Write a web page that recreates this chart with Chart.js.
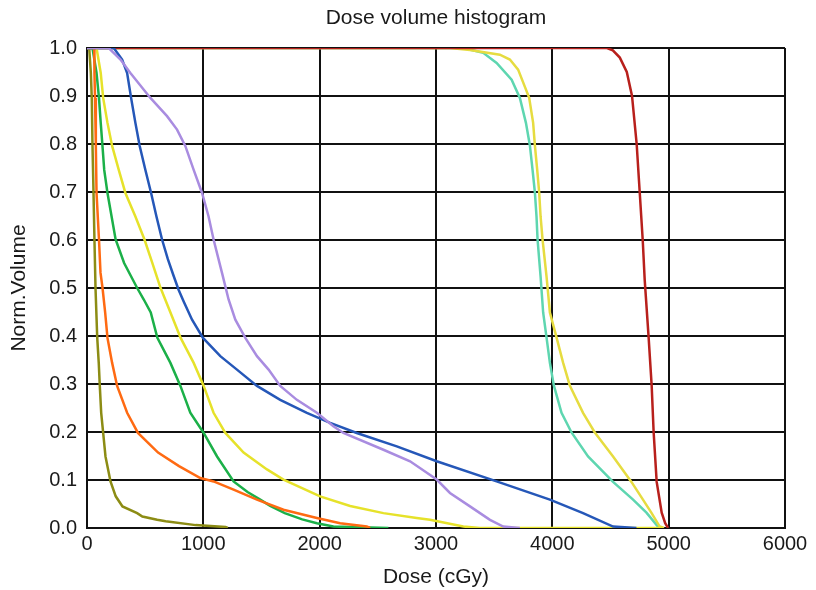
<!DOCTYPE html>
<html>
<head>
<meta charset="utf-8">
<script src="https://cdn.jsdelivr.net/npm/chart.js@4/dist/chart.umd.min.js"></script>
<style>
  html, body { margin: 0; padding: 0; background: #fff; }
  #wrap { width: 816px; height: 590px; }
</style>
</head>
<body>
<div id="wrap"><canvas id="dvh"></canvas></div>
<script>
// dose (cGy) / normalised volume pairs
const xTicks = [0, 1000, 2000, 3000, 4000, 5000, 6000];
const yTicks = [0.0, 0.1, 0.2, 0.3, 0.4, 0.5, 0.6, 0.7, 0.8, 0.9, 1.0];

const redDose = [0, 4470, 4520, 4580, 4640, 4685, 4725, 4751, 4777, 4794, 4828, 4854, 4871, 4897, 4940, 4970, 4995];
const redVol  = [1, 1, 0.995, 0.98, 0.95, 0.9, 0.8, 0.7, 0.6, 0.517, 0.396, 0.296, 0.199, 0.096, 0.032, 0.01, 0];

const tealDose = [0, 3234, 3406, 3521, 3650, 3721, 3773, 3807, 3830, 3850, 3864, 3873, 3899, 3921, 3950, 3979, 4013, 4079, 4165, 4307, 4522, 4694, 4809, 4908, 4945];
const tealVol  = [1, 1, 0.99, 0.969, 0.934, 0.896, 0.844, 0.797, 0.746, 0.699, 0.649, 0.601, 0.524, 0.449, 0.397, 0.344, 0.297, 0.24, 0.199, 0.149, 0.096, 0.059, 0.032, 0.003, 0];

const yellowRDose = [0, 3120, 3292, 3549, 3635, 3706, 3801, 3835, 3850, 3870, 3887, 3899, 3916, 3950, 3979, 4036, 4093, 4150, 4264, 4365, 4522, 4680, 4779, 4851, 4923, 4960];
const yellowRVol  = [1, 1, 0.996, 0.986, 0.976, 0.955, 0.896, 0.844, 0.797, 0.746, 0.699, 0.649, 0.601, 0.524, 0.449, 0.397, 0.344, 0.297, 0.24, 0.199, 0.149, 0.096, 0.059, 0.032, 0.003, 0];

const blueDose = [0, 230, 302, 345, 379, 416, 453, 502, 551, 597, 645, 695, 745, 788, 831, 903, 997, 1146, 1289, 1461, 1661, 1890, 2090, 2319, 2663, 3006, 3521, 3979, 4264, 4522, 4723];
const blueVol  = [1, 1, 0.976, 0.948, 0.896, 0.844, 0.796, 0.746, 0.698, 0.649, 0.601, 0.56, 0.525, 0.496, 0.472, 0.434, 0.396, 0.358, 0.33, 0.296, 0.267, 0.24, 0.219, 0.198, 0.17, 0.139, 0.097, 0.059, 0.031, 0.003, 0];

const purpleDose = [0, 187, 288, 373, 545, 688, 774, 845, 917, 989, 1045, 1088, 1161, 1217, 1275, 1361, 1461, 1561, 1661, 1804, 1976, 2118, 2204, 2548, 2777, 3006, 3120, 3292, 3464, 3578, 3721];
const purpleVol  = [1, 1, 0.976, 0.948, 0.896, 0.858, 0.83, 0.796, 0.746, 0.698, 0.649, 0.601, 0.531, 0.476, 0.434, 0.396, 0.358, 0.33, 0.296, 0.267, 0.24, 0.212, 0.198, 0.163, 0.139, 0.101, 0.073, 0.045, 0.017, 0.003, 0];

const oliveDose = [0, 19, 33, 41, 47, 56, 64, 73, 88, 101, 110, 122, 139, 159, 202, 247, 305, 431, 476, 603, 676, 934, 1191, 1210];
const oliveVol  = [1, 1, 0.948, 0.896, 0.8, 0.698, 0.601, 0.501, 0.396, 0.344, 0.296, 0.24, 0.198, 0.149, 0.097, 0.066, 0.045, 0.031, 0.024, 0.017, 0.014, 0.006, 0.002, 0];

const orangeDose = [0, 62, 64, 69, 76, 82, 103, 116, 133, 156, 176, 216, 259, 345, 438, 611, 791, 974, 1088, 1260, 1461, 1689, 1976, 2176, 2405, 2434];
const orangeVol  = [1, 1, 0.948, 0.896, 0.796, 0.698, 0.601, 0.532, 0.501, 0.449, 0.396, 0.344, 0.296, 0.24, 0.198, 0.157, 0.129, 0.104, 0.097, 0.08, 0.059, 0.038, 0.021, 0.01, 0.003, 0];

const greenDose = [0, 47, 82, 103, 118, 133, 148, 176, 246, 319, 429, 488, 548, 605, 717, 803, 888, 1003, 1118, 1260, 1380, 1489, 1575, 1700, 1850, 1976, 2118, 2591];
const greenVol  = [1, 1, 0.948, 0.896, 0.844, 0.796, 0.746, 0.698, 0.601, 0.552, 0.501, 0.476, 0.449, 0.396, 0.344, 0.296, 0.24, 0.198, 0.149, 0.097, 0.075, 0.059, 0.046, 0.031, 0.018, 0.01, 0.003, 0];

const yellowLDose = [0, 82, 118, 139, 176, 216, 273, 330, 416, 494, 562, 631, 719, 805, 917, 1003, 1088, 1189, 1346, 1547, 1689, 2004, 2262, 2548, 2834, 2948, 3235, 3378, 4950];
const yellowLVol  = [1, 1, 0.948, 0.896, 0.844, 0.796, 0.746, 0.698, 0.649, 0.601, 0.552, 0.501, 0.448, 0.396, 0.344, 0.296, 0.24, 0.198, 0.157, 0.122, 0.101, 0.066, 0.046, 0.031, 0.021, 0.017, 0.003, 0, 0];

function pts(xs, ys) {
    return xs.map((x, i) => ({ x: x, y: ys[i] }));
}

function curve(label, xs, ys, color, order) {
    return {
        label: label,
        data: pts(xs, ys),
        borderColor: color,
        backgroundColor: color,
        borderWidth: 2.5,
        pointRadius: 0,
        tension: 0,
        order: order
    };
}

const font = 'Liberation Sans, Arial, Helvetica, sans-serif';

const ctx = document.getElementById('dvh').getContext('2d');
new Chart(ctx, {
    type: 'scatter',
    data: {
        datasets: [
            curve('purple', purpleDose, purpleVol, '#A98CE0', 1),
            curve('blue', blueDose, blueVol, '#2557B8', 2),
            curve('olive', oliveDose, oliveVol, '#8C8C14', 3),
            curve('orange', orangeDose, orangeVol, '#FF6A12', 4),
            curve('green', greenDose, greenVol, '#1BB048', 5),
            curve('yellowL', yellowLDose, yellowLVol, '#E6E22A', 6),
            curve('red', redDose, redVol, '#B8201C', 7),
            curve('yellowR', yellowRDose, yellowRVol, '#E6DC40', 8),
            curve('teal', tealDose, tealVol, '#5ED6B0', 9)
        ]
    },
    options: {
        responsive: true,
        maintainAspectRatio: false,
        animation: false,
        showLine: true,
        layout: { padding: { left: 0, right: 31, top: 0, bottom: 0 } },
        plugins: {
            legend: { display: false },
            tooltip: { enabled: false }
        },
        scales: {
            // empty top axis, only used to centre the title over the plot area
            top: {
                type: 'linear',
                position: 'top',
                min: 0,
                max: 6000,
                afterFit: s => { s.height = 48; },
                grid: { display: false },
                border: { display: false },
                ticks: { display: false },
                title: {
                    display: true,
                    text: 'Dose volume histogram',
                    color: '#1a1a1a',
                    font: { family: font, size: 21 },
                    padding: { top: 6, bottom: 0 }
                }
            },
            x: {
                type: 'linear',
                min: 0,
                max: 6000,
                afterBuildTicks: s => { s.ticks = xTicks.map(v => ({ value: v })); },
                afterFit: s => { s.height = 62; },
                grid: { color: '#111', lineWidth: 2, drawTicks: false },
                border: { color: '#111', width: 2 },
                ticks: {
                    color: '#1a1a1a',
                    padding: 4,
                    font: { family: font, size: 20 },
                    callback: v => String(v)
                },
                title: {
                    display: true,
                    text: 'Dose (cGy)',
                    color: '#1a1a1a',
                    font: { family: font, size: 21 },
                    padding: { top: 0, bottom: 0 }
                }
            },
            y: {
                type: 'linear',
                min: 0,
                max: 1,
                afterBuildTicks: s => { s.ticks = yTicks.map(v => ({ value: v })); },
                afterFit: s => { s.width = 87; },
                grid: { color: '#111', lineWidth: 2, drawTicks: false },
                border: { color: '#111', width: 2 },
                ticks: {
                    color: '#1a1a1a',
                    padding: 10,
                    font: { family: font, size: 20 },
                    callback: v => v.toFixed(1)
                },
                title: {
                    display: true,
                    text: 'Norm.Volume',
                    color: '#1a1a1a',
                    font: { family: font, size: 21 },
                    padding: { top: 7, bottom: 0 }
                }
            }
        }
    }
});
</script>
</body>
</html>
